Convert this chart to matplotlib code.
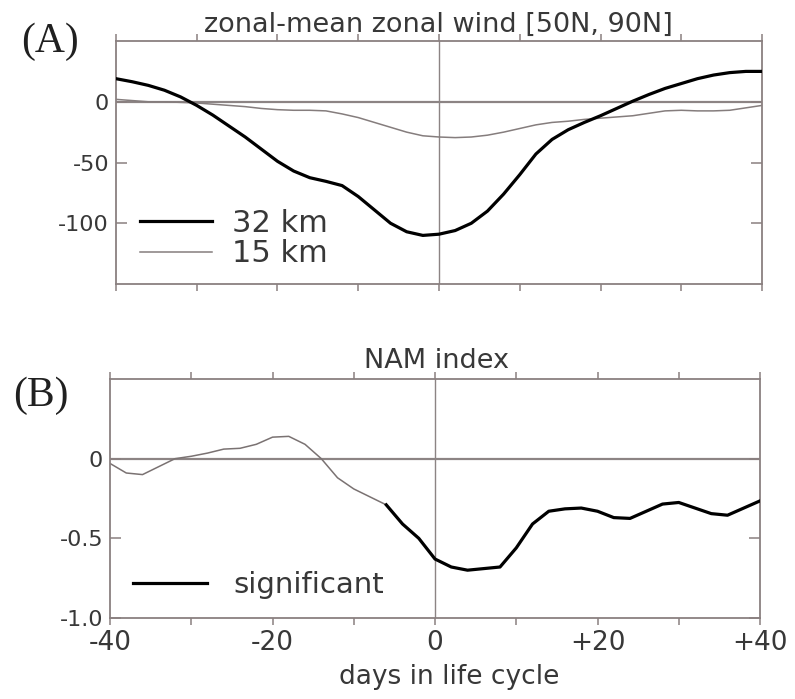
import numpy as np
import matplotlib.pyplot as plt

# days in the life cycle, every 2 days
days = np.arange(-40, 41, 2)

# zonal-mean zonal wind averaged over 50N-90N (m/s)
wind_32km = [19, 16.5, 13.5, 9.5, 4, -3, -11, -20, -29, -39, -49, -57, -62.5,
             -65.5, -69, -78, -89, -100, -107, -110, -109, -106, -100, -90, -76,
             -60, -43, -31, -23, -17, -11.5, -5.5, 0.5, 6, 11, 15, 19, 22, 24,
             25, 25]
wind_15km = [2, 1, 0, 0, -0.5, -1, -2, -3, -4, -5.5, -6.5, -7, -7, -7.5, -10,
             -13, -17, -21, -25, -28, -29, -29.5, -29, -27.5, -25, -22, -19,
             -17, -16, -14.5, -13.5, -12.5, -11.5, -9.5, -7.5, -7, -7.5, -7.5,
             -7, -5, -3]

# NAM index composite
nam = [-0.03, -0.09, -0.10, -0.05, 0.0, 0.015, 0.035, 0.06, 0.065, 0.09, 0.135,
       0.14, 0.09, 0.0, -0.12, -0.19, -0.24, -0.29, -0.41, -0.50, -0.63, -0.68,
       -0.70, -0.69, -0.68, -0.56, -0.41, -0.33, -0.315, -0.31, -0.33, -0.37,
       -0.375, -0.33, -0.285, -0.275, -0.31, -0.345, -0.355, -0.31, -0.265]
sig_start = -6  # NAM is significant from this day on

xticks = np.arange(-40, 41, 10)
xticklabels = ['-40', '', '-20', '', '0', '', '+20', '', '+40']

frame = '#8a8080'
txt = '#383838'

fig = plt.figure(figsize=(7.95, 6.99), dpi=100)
axA = fig.add_axes([0.1459, 0.5937, 0.8126, 0.3476])
axB = fig.add_axes([0.1384, 0.1159, 0.8176, 0.3419])

for ax in (axA, axB):
    ax.axhline(0, color='#8c8484', lw=1.6, zorder=1)
    ax.axvline(0, color='#8c8484', lw=1.0, zorder=1)
    for s in ax.spines.values():
        s.set_color(frame)
        s.set_linewidth(1.3)
    ax.set_xlim(-40, 40)
    ax.set_xticks(xticks)
    ax.tick_params(axis='x', which='both', direction='out', length=5, width=1.1,
                   color=frame, top=True, bottom=True, labelcolor=txt,
                   labelsize=19, pad=4)
    ax.tick_params(axis='y', direction='in', length=8, width=1.1, color=frame,
                   left=True, right=True, labelcolor=txt, labelsize=16, pad=5)

# (A) zonal wind
axA.plot(days, wind_15km, color='#857d7d', lw=1.1, label='15 km', zorder=2,
         solid_joinstyle='round')
axA.plot(days, wind_32km, color='black', lw=2.3, label='32 km', zorder=3,
         solid_joinstyle='round')
axA.set_ylim(-150, 50)
axA.set_yticks([-100, -50, 0])
axA.set_yticklabels(['-100', '-50', '0'])
axA.set_xticklabels([])
hA, lA = axA.get_legend_handles_labels()
axA.legend(hA[::-1], lA[::-1], loc='center left', bbox_to_anchor=(0.037, 0.187),
           frameon=False, fontsize=22, handlelength=2.35, handletextpad=0.65,
           labelspacing=0.05, borderpad=0, borderaxespad=0, labelcolor=txt)
fig.text(438 / 795, 1 - 32 / 699, 'zonal-mean zonal wind [50N, 90N]',
         ha='center', va='baseline', fontsize=19.5, color=txt)
fig.text(50 / 795, 1 - 42 / 699, '(A)', ha='center', va='center', fontsize=30,
         family='Liberation Serif', color='#202020')

# (B) NAM index
d = np.array(days)
n = np.array(nam)
ns = d <= sig_start
axB.plot(d[ns], n[ns], color='#7a7272', lw=1.1, zorder=2,
         solid_joinstyle='round')
axB.plot(d[d >= sig_start], n[d >= sig_start], color='black', lw=2.3,
         label='significant', zorder=3, solid_joinstyle='round')
axB.set_ylim(-1.0, 0.5)
axB.set_yticks([-1.0, -0.5, 0])
axB.set_yticklabels(['-1.0', '-0.5', '0'])
axB.set_xticklabels(xticklabels)
axB.legend(loc='center left', bbox_to_anchor=(0.035, 0.138), frameon=False,
           fontsize=21, handlelength=2.55, handletextpad=0.9, borderpad=0,
           borderaxespad=0, labelcolor=txt)
fig.text(436 / 795, 1 - 368 / 699, 'NAM index', ha='center', va='baseline',
         fontsize=19.5, color=txt)
fig.text(41 / 795, 1 - 396 / 699, '(B)', ha='center', va='center', fontsize=30,
         family='Liberation Serif', color='#202020')
fig.text(449 / 795, 1 - 684 / 699, 'days in life cycle', ha='center',
         va='baseline', fontsize=19, color=txt)

fig.savefig('out.png', dpi=100, facecolor='white')
